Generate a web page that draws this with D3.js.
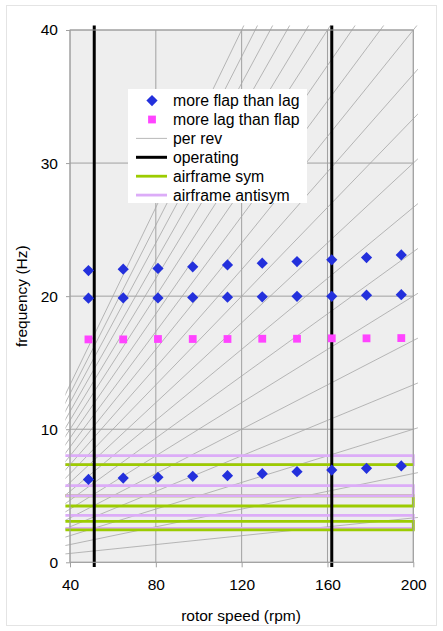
<!DOCTYPE html>
<html>
<head>
<meta charset="utf-8">
<script src="https://cdn.jsdelivr.net/npm/d3@7"></script>
<style>
  html, body { margin: 0; padding: 0; background: #fff; }
  text { font-family: "Liberation Sans", Arial, Helvetica, sans-serif; fill: #000; }
</style>
</head>
<body>
<svg id="chart" width="443" height="631"></svg>
<script>
// ---- data ----
const rotorSpeed = [48.6, 64.8, 81, 97.2, 113.4, 129.6, 145.8, 162, 178.2, 194.4];
const flapUpper  = [21.92, 22.03, 22.08, 22.2, 22.35, 22.48, 22.6, 22.73, 22.9, 23.1];
const flapMiddle = [19.85, 19.87, 19.87, 19.9, 19.92, 19.95, 19.99, 19.99, 20.07, 20.11];
const flapLower  = [6.23, 6.33, 6.39, 6.46, 6.51, 6.66, 6.81, 6.93, 7.06, 7.24];
const lagFreq    = [16.75, 16.75, 16.78, 16.78, 16.78, 16.8, 16.8, 16.83, 16.83, 16.85];

const perRevHarmonics = [1,2,3,4,5,6,7,8,9,10,11,12,13,14,15,16,17,18,19,20];
const perRevRpmRange = [0, 250];

const operatingRpm = [51.3, 162];
const operatingFreqRange = [-5, 50];

const airframeRpmRange = [0, 200];
const airframeAntisym = [[8.01, 7.34], [5.76, 5.0], [3.53, 2.55]];
const airframeSym     = [[7.34, 7.34], [5.0, 4.23], [3.08, 2.43]];

const xTicks = [40, 80, 120, 160, 200];
const yTicks = [0, 10, 20, 30, 40];

const legendLabels = ["more flap than lag", "more lag than flap", "per rev", "operating", "airframe sym", "airframe antisym"];

// ---- layout ----
const svg = d3.select("#chart");
const plot = { left: 70, right: 413.3, top: 30, bottom: 562.3 };
const x = d3.scaleLinear().domain([40, 200]).range([plot.left, plot.right]);
const y = d3.scaleLinear().domain([0, 40]).range([plot.bottom, plot.top]);

const col = {
  flap: "#2330dc", lag: "#ff44ff", perRev: "#a6a6a6", op: "#000",
  sym: "#9ccc00", antisym: "#dcacf8", grid: "#a0a0a0", bg: "#eeeeee"
};

// chart area border
svg.append("rect").attr("x", 6.5).attr("y", 5.5).attr("width", 430).attr("height", 620)
  .attr("fill", "#fff").attr("stroke", "#e4e4e4").attr("stroke-width", 1);

// plot background
svg.append("rect").attr("x", plot.left).attr("y", plot.top)
  .attr("width", plot.right - plot.left).attr("height", plot.bottom - plot.top)
  .attr("fill", col.bg);

// gridlines
const g = svg.append("g");
g.selectAll(".gx").data(xTicks).join("line")
  .attr("x1", d => x(d)).attr("x2", d => x(d)).attr("y1", plot.top).attr("y2", plot.bottom)
  .attr("stroke", col.grid).attr("stroke-width", 1);
g.selectAll(".gy").data(yTicks).join("line")
  .attr("x1", plot.left).attr("x2", plot.right).attr("y1", d => y(d)).attr("y2", d => y(d))
  .attr("stroke", col.grid).attr("stroke-width", 1);

// clip slightly larger than plot area (as in the original)
const m = 4.6;
svg.append("clipPath").attr("id", "clip").append("rect")
  .attr("x", plot.left - m).attr("y", plot.top - m)
  .attr("width", plot.right - plot.left + 2 * m).attr("height", plot.bottom - plot.top + 2 * m);
const c = svg.append("g").attr("clip-path", "url(#clip)");

const line = d3.line().x(d => x(d[0])).y(d => y(d[1]));

// per rev lines
c.selectAll(".rev").data(perRevHarmonics).join("path")
  .attr("d", n => line(perRevRpmRange.map(r => [r, n * r / 60])))
  .attr("fill", "none").attr("stroke", col.perRev).attr("stroke-width", 0.8);

// airframe modes (open-left loops)
function loop(pair) {
  const [a, b] = pair, [r0, r1] = airframeRpmRange;
  return line([[r0, a], [r1, a], [r1, b], [r0, b]]);
}
const airOrder = [
  [airframeAntisym[0], col.antisym], [airframeSym[0], col.sym],
  [airframeSym[1], col.sym], [airframeAntisym[1], col.antisym],
  [airframeAntisym[2], col.antisym], [airframeSym[2], col.sym]
];
c.selectAll(".air").data(airOrder).join("path")
  .attr("d", d => loop(d[0])).attr("fill", "none")
  .attr("stroke", d => d[1]).attr("stroke-width", 2.8);

// operating lines
c.selectAll(".op").data(operatingRpm).join("path")
  .attr("d", r => line(operatingFreqRange.map(f => [r, f])))
  .attr("fill", "none").attr("stroke", col.op).attr("stroke-width", 3);

// plot border
svg.append("rect").attr("x", plot.left).attr("y", plot.top)
  .attr("width", plot.right - plot.left).attr("height", plot.bottom - plot.top)
  .attr("fill", "none").attr("stroke", col.grid).attr("stroke-width", 1);

// axes
const xAxis = svg.append("g").attr("transform", `translate(0,${plot.bottom})`)
  .call(d3.axisBottom(x).tickValues(xTicks).tickSize(5).tickPadding(12).tickFormat(d3.format("d")));
const yAxis = svg.append("g").attr("transform", `translate(${plot.left},0)`)
  .call(d3.axisLeft(y).tickValues(yTicks).tickSize(4).tickPadding(8).tickFormat(d3.format("d")));
[xAxis, yAxis].forEach(a => {
  a.select(".domain").remove();
  a.selectAll(".tick line").attr("stroke", col.grid);
  a.selectAll(".tick text").style("font-size", "15.5px").style("font-family", "Liberation Sans, Arial, sans-serif").attr("fill", "#000");
});

// markers
function diamondPath(cx, cy, r) {
  return `M${cx},${cy - r}L${cx + r},${cy}L${cx},${cy + r}L${cx - r},${cy}Z`;
}
const flapPts = [];
rotorSpeed.forEach((r, i) => {
  flapPts.push([r, flapUpper[i]], [r, flapMiddle[i]], [r, flapLower[i]]);
});
svg.append("g").selectAll("path").data(flapPts).join("path")
  .attr("d", d => diamondPath(x(d[0]), y(d[1]), 5.6)).attr("fill", col.flap);
svg.append("g").selectAll("rect").data(rotorSpeed.map((r, i) => [r, lagFreq[i]])).join("rect")
  .attr("x", d => x(d[0]) - 3.9).attr("y", d => y(d[1]) - 3.9)
  .attr("width", 7.8).attr("height", 7.8).attr("fill", col.lag);

// axis titles
svg.append("text").attr("x", 241).attr("y", 621).attr("text-anchor", "middle")
  .style("font-size", "15.5px").text("rotor speed (rpm)");
svg.append("text").attr("transform", `translate(27,${(plot.top + plot.bottom) / 2}) rotate(-90)`)
  .attr("text-anchor", "middle").style("font-size", "15.5px").text("frequency (Hz)");

// legend
const lg = svg.append("g");
lg.append("rect").attr("x", 128).attr("y", 89).attr("width", 179).attr("height", 114).attr("fill", "#fff");
const rowY = i => 100.6 + i * 18.9;
const symX0 = 136, symX1 = 167, symCx = 152, textX = 173;
legendLabels.forEach((lab, i) => {
  const yy = rowY(i);
  if (i === 0) lg.append("path").attr("d", diamondPath(symCx, yy, 5.6)).attr("fill", col.flap);
  else if (i === 1) lg.append("rect").attr("x", symCx - 3.9).attr("y", yy - 3.9).attr("width", 7.8).attr("height", 7.8).attr("fill", col.lag);
  else {
    const st = [null, null, [col.perRev, 0.8], [col.op, 3], [col.sym, 2.8], [col.antisym, 2.8]][i];
    lg.append("line").attr("x1", symX0).attr("x2", symX1).attr("y1", yy).attr("y2", yy)
      .attr("stroke", st[0]).attr("stroke-width", st[1]);
  }
  lg.append("text").attr("x", textX).attr("y", yy).attr("dy", "0.36em")
    .style("font-size", "15.8px").text(lab);
});
</script>
</body>
</html>
